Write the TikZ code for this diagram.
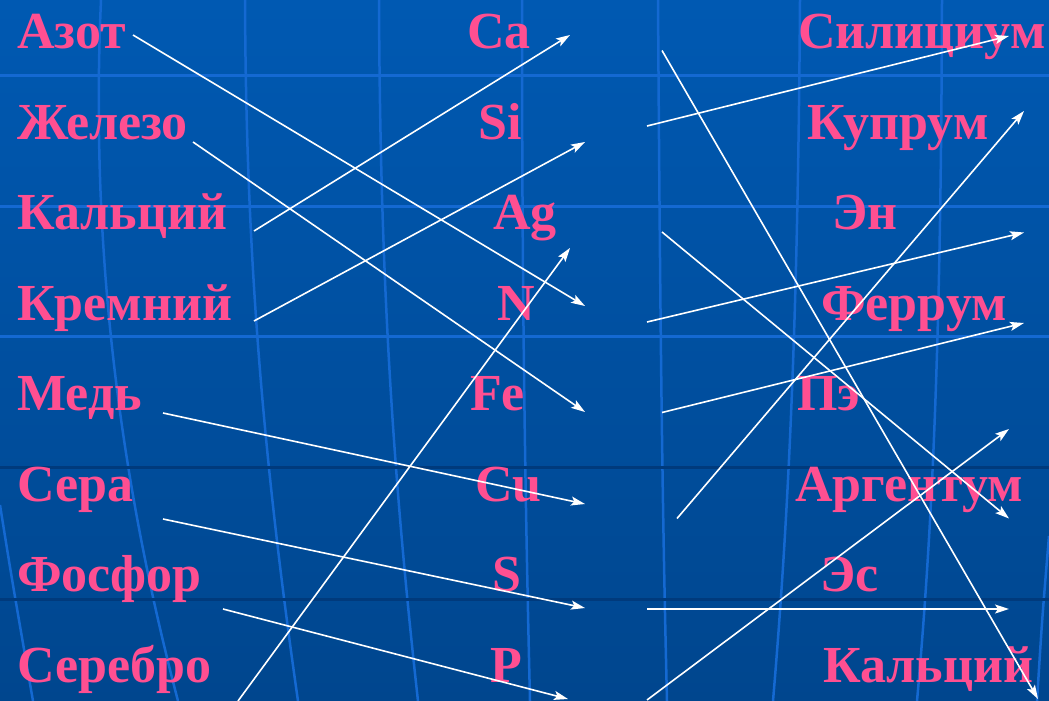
\documentclass[tikz,border=0pt]{standalone}
\usepackage{fontspec}
\setmainfont{Liberation Serif}
\usetikzlibrary{arrows.meta}
\definecolor{bgtop}{HTML}{0059B2}
\definecolor{bgbot}{HTML}{00468E}
\definecolor{gridlight}{HTML}{1469D2}
\definecolor{griddark}{HTML}{003A7C}
\definecolor{pinktext}{HTML}{FF4F91}
\tikzset{
  lbl/.style={text=pinktext, font=\fontsize{52}{52}\selectfont\bfseries, inner sep=0pt, anchor=base west},
  conn/.style={white, line width=1.6pt, -{Stealth[length=14pt,width=9pt,inset=3pt]}},
  meridian/.style={gridlight, line width=2.5pt},
  hlight/.style={gridlight, line width=3pt},
  hdark/.style={griddark, line width=3pt}
}
\begin{document}
\begin{tikzpicture}[x=1pt,y=-1pt]
\useasboundingbox (0,0) rectangle (1049,701);
\shade[top color=bgtop,bottom color=bgbot] (0,0) rectangle (1049,701);
% meridians
\draw[meridian] (101,0) .. controls (90,250) and (120,480) .. (178,701);
\draw[meridian] (245,0) .. controls (246,250) and (262,450) .. (298,701);
\draw[meridian] (379,0) .. controls (380,250) and (390,450) .. (418,701);
\draw[meridian] (522,0) .. controls (522,250) and (524,450) .. (530,701);
\draw[meridian] (658,0) .. controls (660,300) and (662,500) .. (667,701);
\draw[meridian] (800,0) .. controls (798,300) and (790,500) .. (773,701);
\draw[meridian] (942,0) .. controls (941,300) and (935,500) .. (917,701);
\draw[meridian] (0,505) .. controls (12,580) .. (33,701);
\draw[meridian] (1049,536) .. controls (1042,620) .. (1037,701);
% horizontal lines
\draw[hlight] (0,75) -- (1049,75);
\draw[hlight] (0,206) -- (1049,206);
\draw[hlight] (0,336) -- (1049,336);
\draw[hdark] (0,467) -- (1049,467);
\draw[hdark] (0,599) -- (1049,599);
% left column
\node[lbl] (l1) at (17,48.5) {Азот};
\node[lbl] (l2) at (17,139) {Железо};
\node[lbl] (l3) at (17,229.5) {Кальций};
\node[lbl] (l4) at (17,320) {Кремний};
\node[lbl] (l5) at (17,410.5) {Медь};
\node[lbl] (l6) at (17,501) {Сера};
\node[lbl] (l7) at (17,591.5) {Фосфор};
\node[lbl] (l8) at (17,682) {Серебро};
% middle column
\node[lbl] (m1) at (467,48.5) {Ca};
\node[lbl] (m2) at (478,139) {Si};
\node[lbl] (m3) at (493,229.5) {Ag};
\node[lbl] (m4) at (497,320) {N};
\node[lbl] (m5) at (470,410.5) {Fe};
\node[lbl] (m6) at (475,501) {Cu};
\node[lbl] (m7) at (492,591.5) {S};
\node[lbl] (m8) at (490,682) {P};
% right column
\node[lbl] (r1) at (798,48.5) {Силициум};
\node[lbl] (r2) at (807,139) {Купрум};
\node[lbl] (r3) at (832,229.5) {Эн};
\node[lbl] (r4) at (821,320) {Феррум};
\node[lbl] (r5) at (797,410.5) {Пэ};
\node[lbl] (r6) at (795,501) {Аргентум};
\node[lbl] (r7) at (820,591.5) {Эс};
\node[lbl] (r8) at (823,682) {Кальций};
% connector end points
\coordinate (a1s) at (133,35);   \coordinate (a1e) at (585,306);
\coordinate (a2s) at (193,142);  \coordinate (a2e) at (585,412);
\coordinate (a3s) at (254,231);  \coordinate (a3e) at (570,35);
\coordinate (a4s) at (254,321);  \coordinate (a4e) at (585,142);
\coordinate (a5s) at (163,413);  \coordinate (a5e) at (585,504);
\coordinate (a6s) at (163,519);  \coordinate (a6e) at (585,608);
\coordinate (a7s) at (223,609);  \coordinate (a7e) at (568,699);
\coordinate (a8s) at (238,701);  \coordinate (a8e) at (570,248);
\coordinate (b1s) at (647,126);  \coordinate (b1e) at (1009,36);
\coordinate (b2s) at (662,50.5); \coordinate (b2e) at (1038,699);
\coordinate (b3s) at (662,232);  \coordinate (b3e) at (1009,518.5);
\coordinate (b4s) at (647,322);  \coordinate (b4e) at (1024,232.5);
\coordinate (b5s) at (662,412.5);\coordinate (b5e) at (1024,323);
\coordinate (b6s) at (677,518.5);\coordinate (b6e) at (1024,111);
\coordinate (b7s) at (647,609);  \coordinate (b7e) at (1009,609);
\coordinate (b8s) at (647,700);  \coordinate (b8e) at (1009,429);
% connectors
\foreach \c in {a1,a2,a3,a4,a5,a6,a7,a8,b1,b2,b3,b4,b5,b6,b7,b8}
  \draw[conn] (\c s) -- (\c e);
\end{tikzpicture}
\end{document}
